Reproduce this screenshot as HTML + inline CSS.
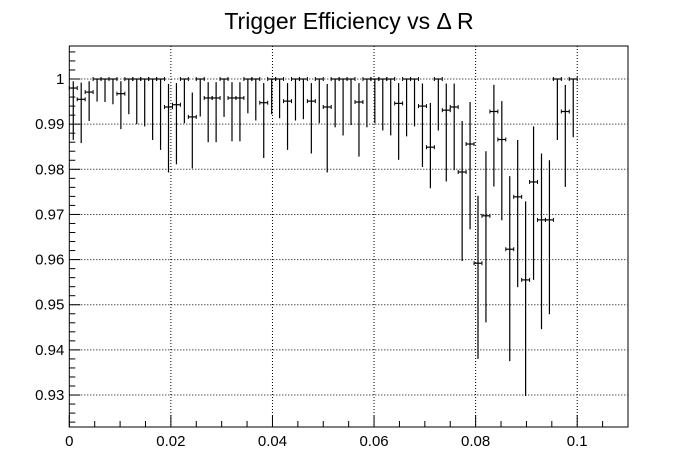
<!DOCTYPE html>
<html><head><meta charset="utf-8"><style>
html,body{margin:0;padding:0;background:#fff}
svg{display:block;font-family:"Liberation Sans",sans-serif}
</style></head><body>
<svg id="chart" width="698" height="476" viewBox="0 0 698 476" xmlns="http://www.w3.org/2000/svg">
<rect x="0" y="0" width="698" height="476" fill="#fff"/>
<text x="349" y="29" text-anchor="middle" font-size="23">Trigger Efficiency vs Δ R</text>
<g id="grid"></g>
<g id="axes"></g>
<g id="marks"></g>
</svg>
<script>
const nBins = 64;
const xMin = 0, xMax = 0.1;
const effValues = [0.998,0.9955,0.9971,1,1,1,0.99675,1,1,1,1,1,0.9938,0.9943,1,0.9916,
1,0.9958,0.9958,1,0.9958,0.9958,1,1,0.99475,1,1,0.9951,1,1,0.9951,1,
0.9938,1,1,1,0.9949,1,1,1,1,0.9946,1,1,0.994,0.9849,1,0.9931,
0.9938,0.9794,0.9856,0.9592,0.9697,0.9928,0.9866,0.9623,0.9739,0.9555,0.9772,0.9688,0.9688,1,0.9928,1];
const errHigh = [0.9995,0.9992,0.9995,1,1,1,0.9995,1,1,1,1,1,0.9989,0.9991,1,0.997,
1,0.9993,0.9993,1,0.9993,0.9993,1,1,0.9991,1,1,0.9991,1,1,0.9991,1,
0.9989,1,1,1,0.9991,1,1,1,1,0.9991,1,1,0.999,0.9947,1,0.999,
0.999,0.9907,0.9949,0.9741,0.984,0.9987,0.9951,0.9785,0.9865,0.9729,0.9895,0.9835,0.982,1,0.9987,1];
const errLow = [0.9865,0.9858,0.9907,0.995,0.9949,0.9944,0.9889,0.9922,0.99,0.9895,0.9865,0.9843,0.9793,0.9811,0.9902,0.9802,
0.9917,0.986,0.986,0.9916,0.9862,0.9862,0.9924,0.9908,0.9825,0.9922,0.9913,0.9843,0.9908,0.9911,0.9835,0.9902,
0.9793,0.9893,0.9875,0.9898,0.9828,0.9893,0.9902,0.9886,0.9875,0.9821,0.9873,0.9895,0.9805,0.9758,0.9886,0.9773,
0.9798,0.9597,0.9667,0.938,0.9461,0.9762,0.9687,0.9375,0.9539,0.9298,0.9555,0.9446,0.9479,0.9865,0.9761,0.9871];
const yTicks = [0.93,0.94,0.95,0.96,0.97,0.98,0.99,1];
const yTickLabels = ["0.93","0.94","0.95","0.96","0.97","0.98","0.99","1"];
const xTicks = [0,0.02,0.04,0.06,0.08,0.1];
const xTickLabels = ["0","0.02","0.04","0.06","0.08","0.1"];

const L=69.3, R=628, T=46, B=427;
const X0=0, X1=0.11, Y0=0.92292, Y1=1.00731;
function sx(v){return L+(v-X0)/(X1-X0)*(R-L);}
function sy(v){return B-(v-Y0)/(Y1-Y0)*(B-T);}
const NS="http://www.w3.org/2000/svg";
function mk(tag,attrs,parent){const e=document.createElementNS(NS,tag);for(const k in attrs)e.setAttribute(k,attrs[k]);parent.appendChild(e);return e;}
const grid=document.getElementById('grid'), axes=document.getElementById('axes'), marks=document.getElementById('marks');

xTicks.forEach(v=>{if(v>0){const g=mk('line',{x1:sx(v),x2:sx(v),y1:T,y2:B,stroke:'#000','stroke-width':1,'stroke-dasharray':'1,2'},grid);

}});
yTicks.forEach(v=>{const g=mk('line',{x1:L,x2:R,y1:sy(v),y2:sy(v),stroke:'#000','stroke-width':1,'stroke-dasharray':'1,2'},grid);

});

const fr=mk('rect',{x:L,y:T,width:R-L,height:B-T,fill:'none',stroke:'#000','stroke-width':1},axes);



for(let i=0;i<=22;i++){const v=i*0.005;const p=sx(v);const major=(i%4===0);
const t=mk('line',{x1:p,x2:p,y1:B,y2:B-(major?12:6),stroke:'#000','stroke-width':1},axes);

}
for(let i=0;;i++){const v=0.924+i*0.002;if(v>Y1)break;const p=sy(v);const major=Math.abs((v*100)-Math.round(v*100))<1e-6;
const t=mk('line',{x1:L,x2:L+(major?11:6),y1:p,y2:p,stroke:'#000','stroke-width':1},axes);

}

xTicks.forEach((v,i)=>{const t=mk('text',{x:sx(v),y:B+19,'text-anchor':'middle','font-size':15},axes);t.textContent=xTickLabels[i];

});
yTicks.forEach((v,i)=>{const t=mk('text',{x:L-5,y:sy(v)+5,'text-anchor':'end','font-size':15},axes);t.textContent=yTickLabels[i];

});

const bw=(xMax-xMin)/nBins;
effValues.forEach((v,i)=>{
  const g=mk('g',{},marks);
  
  
  const xl=sx(xMin+i*bw), xr=sx(xMin+(i+1)*bw), xc=(xl+xr)/2, yc=sy(v);
  mk('line',{x1:xl,x2:xr,y1:yc,y2:yc,stroke:'#000','stroke-width':1.2},g);
  mk('line',{x1:xl,x2:xl,y1:yc-2,y2:yc+2,stroke:'#000','stroke-width':1},g);
  mk('line',{x1:xr,x2:xr,y1:yc-2,y2:yc+2,stroke:'#000','stroke-width':1},g);
  mk('line',{x1:xc,x2:xc,y1:sy(errHigh[i]),y2:sy(errLow[i]),stroke:'#000','stroke-width':1.2},g);
});
</script>
</body></html>
